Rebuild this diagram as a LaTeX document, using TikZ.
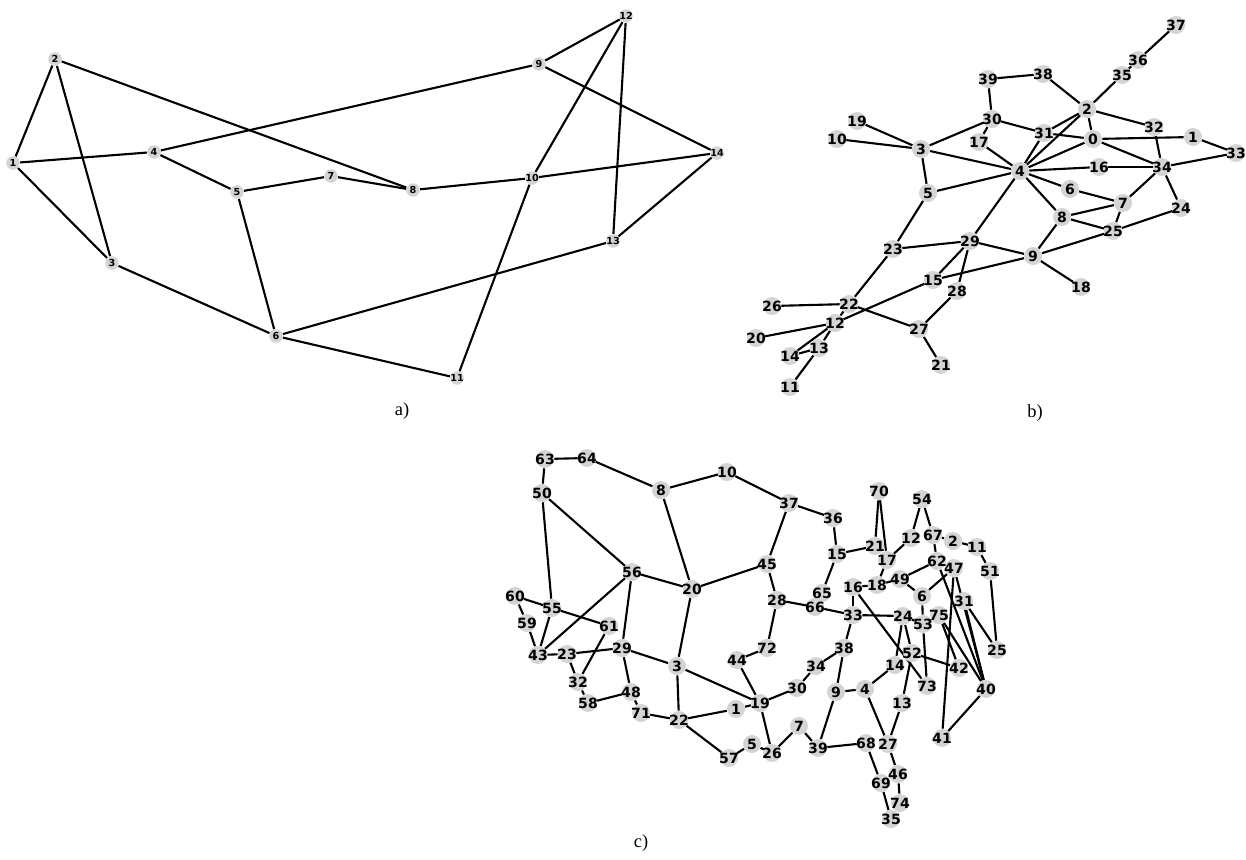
\documentclass[tikz,border=0pt]{standalone}
\usepackage{fontspec}
\setmainfont{Liberation Serif}
\newfontfamily\numfont{DejaVu Sans}
\usetikzlibrary{backgrounds}
\definecolor{nodegray}{RGB}{212,212,212}

\begin{document}
\begin{tikzpicture}[
    x=0.02cm, y=-0.02cm,
    vertex/.style={circle, fill=nodegray, minimum size=0.36cm, inner sep=-1pt, font=\numfont\bfseries\fontsize{8}{8}\selectfont},
    smallvertex/.style={circle, fill=nodegray, minimum size=0.27cm, inner sep=-1pt, font=\numfont\bfseries\fontsize{5.5}{5.5}\selectfont},
    link/.style={line width=1.2pt, draw=black},
    caption/.style={font=\fontsize{10.5}{10.5}\selectfont}
]
\useasboundingbox (0,0) rectangle (1246,859);

% ============ GRAPH a ============
\node[smallvertex] (a1) at (13,163) {1};
\node[smallvertex] (a2) at (55,59) {2};
\node[smallvertex] (a3) at (112,263) {3};
\node[smallvertex] (a4) at (154,152) {4};
\node[smallvertex] (a5) at (237,192) {5};
\node[smallvertex] (a6) at (276,336) {6};
\node[smallvertex] (a7) at (331,176) {7};
\node[smallvertex] (a8) at (413,190) {8};
\node[smallvertex] (a9) at (539,64) {9};
\node[smallvertex] (a10) at (532,178) {10};
\node[smallvertex] (a11) at (457,378) {11};
\node[smallvertex] (a12) at (626,16) {12};
\node[smallvertex] (a13) at (613,241) {13};
\node[smallvertex] (a14) at (717,153) {14};
\node[caption] (capa) at (402,411) {a)};

% ============ GRAPH b ============
\node[vertex] (b0) at (1093,139) {0};
\node[vertex] (b1) at (1193,137) {1};
\node[vertex] (b2) at (1087,109) {2};
\node[vertex] (b3) at (921,149) {3};
\node[vertex] (b4) at (1020,171) {4};
\node[vertex] (b5) at (928,193) {5};
\node[vertex] (b6) at (1070,189) {6};
\node[vertex] (b7) at (1123,203) {7};
\node[vertex] (b8) at (1062,217) {8};
\node[vertex] (b9) at (1033,256) {9};
\node[vertex] (b10) at (837,139) {10};
\node[vertex] (b11) at (790,387) {11};
\node[vertex] (b12) at (835,323) {12};
\node[vertex] (b13) at (819,348) {13};
\node[vertex] (b14) at (790,356) {14};
\node[vertex] (b15) at (933,280) {15};
\node[vertex] (b16) at (1099,167) {16};
\node[vertex] (b17) at (979,142) {17};
\node[vertex] (b18) at (1081,287) {18};
\node[vertex] (b19) at (857,121) {19};
\node[vertex] (b20) at (756,338) {20};
\node[vertex] (b21) at (941,365) {21};
\node[vertex] (b22) at (849,304) {22};
\node[vertex] (b23) at (893,249) {23};
\node[vertex] (b24) at (1181,208) {24};
\node[vertex] (b25) at (1113,231) {25};
\node[vertex] (b26) at (772,306) {26};
\node[vertex] (b27) at (919,329) {27};
\node[vertex] (b28) at (957,291) {28};
\node[vertex] (b29) at (970,241) {29};
\node[vertex] (b30) at (992,119) {30};
\node[vertex] (b31) at (1044,133) {31};
\node[vertex] (b32) at (1154,127) {32};
\node[vertex] (b33) at (1236,153) {33};
\node[vertex] (b34) at (1162,167) {34};
\node[vertex] (b35) at (1122,75) {35};
\node[vertex] (b36) at (1138,60) {36};
\node[vertex] (b37) at (1176,25) {37};
\node[vertex] (b38) at (1043,74) {38};
\node[vertex] (b39) at (988,79) {39};
\node[caption] (capb) at (1035,413) {b)};

% ============ GRAPH c ============
\node[vertex] (c1) at (736,709) {1};
\node[vertex] (c2) at (953,541) {2};
\node[vertex] (c3) at (677,666) {3};
\node[vertex] (c4) at (865,689) {4};
\node[vertex] (c5) at (752,744) {5};
\node[vertex] (c6) at (922,596) {6};
\node[vertex] (c7) at (799,726) {7};
\node[vertex] (c8) at (661,490) {8};
\node[vertex] (c9) at (836,692) {9};
\node[vertex] (c10) at (727,472) {10};
\node[vertex] (c11) at (977,547) {11};
\node[vertex] (c12) at (911,538) {12};
\node[vertex] (c13) at (902,703) {13};
\node[vertex] (c14) at (895,665) {14};
\node[vertex] (c15) at (837,554) {15};
\node[vertex] (c16) at (853,587) {16};
\node[vertex] (c17) at (887,560) {17};
\node[vertex] (c18) at (877,585) {18};
\node[vertex] (c19) at (760,703) {19};
\node[vertex] (c20) at (692,589) {20};
\node[vertex] (c21) at (875,546) {21};
\node[vertex] (c22) at (679,720) {22};
\node[vertex] (c23) at (567,654) {23};
\node[vertex] (c24) at (903,616) {24};
\node[vertex] (c25) at (997,650) {25};
\node[vertex] (c26) at (772,753) {26};
\node[vertex] (c27) at (888,744) {27};
\node[vertex] (c28) at (777,600) {28};
\node[vertex] (c29) at (622,648) {29};
\node[vertex] (c30) at (797,688) {30};
\node[vertex] (c31) at (964,601) {31};
\node[vertex] (c32) at (578,682) {32};
\node[vertex] (c33) at (853,615) {33};
\node[vertex] (c34) at (816,666) {34};
\node[vertex] (c35) at (891,819) {35};
\node[vertex] (c36) at (833,518) {36};
\node[vertex] (c37) at (789,503) {37};
\node[vertex] (c38) at (844,648) {38};
\node[vertex] (c39) at (818,748) {39};
\node[vertex] (c40) at (986,689) {40};
\node[vertex] (c41) at (942,738) {41};
\node[vertex] (c42) at (959,668) {42};
\node[vertex] (c43) at (538,655) {43};
\node[vertex] (c44) at (737,660) {44};
\node[vertex] (c45) at (767,564) {45};
\node[vertex] (c46) at (898,774) {46};
\node[vertex] (c47) at (954,568) {47};
\node[vertex] (c48) at (631,692) {48};
\node[vertex] (c49) at (900,579) {49};
\node[vertex] (c50) at (542,493) {50};
\node[vertex] (c51) at (990,571) {51};
\node[vertex] (c52) at (912,653) {52};
\node[vertex] (c53) at (923,624) {53};
\node[vertex] (c54) at (922,499) {54};
\node[vertex] (c55) at (552,608) {55};
\node[vertex] (c56) at (632,572) {56};
\node[vertex] (c57) at (729,758) {57};
\node[vertex] (c58) at (588,703) {58};
\node[vertex] (c59) at (527,623) {59};
\node[vertex] (c60) at (515,596) {60};
\node[vertex] (c61) at (609,626) {61};
\node[vertex] (c62) at (937,561) {62};
\node[vertex] (c63) at (545,459) {63};
\node[vertex] (c64) at (587,458) {64};
\node[vertex] (c65) at (822,593) {65};
\node[vertex] (c66) at (815,607) {66};
\node[vertex] (c67) at (933,535) {67};
\node[vertex] (c68) at (866,743) {68};
\node[vertex] (c69) at (881,783) {69};
\node[vertex] (c70) at (879,491) {70};
\node[vertex] (c71) at (641,713) {71};
\node[vertex] (c72) at (767,648) {72};
\node[vertex] (c73) at (927,686) {73};
\node[vertex] (c74) at (900,803) {74};
\node[vertex] (c75) at (939,615) {75};
\node[caption] (capc) at (641,843) {c)};

% ============ EDGES ============
\begin{scope}[on background layer]
    % graph a
    \draw[link] (a1) -- (a2);  \draw[link] (a1) -- (a3);  \draw[link] (a1) -- (a4);
    \draw[link] (a2) -- (a3);  \draw[link] (a2) -- (a8);  \draw[link] (a4) -- (a9);
    \draw[link] (a4) -- (a5);  \draw[link] (a5) -- (a7);  \draw[link] (a7) -- (a8);
    \draw[link] (a8) -- (a10); \draw[link] (a10) -- (a14); \draw[link] (a5) -- (a6);
    \draw[link] (a3) -- (a6);  \draw[link] (a6) -- (a13); \draw[link] (a6) -- (a11);
    \draw[link] (a11) -- (a10); \draw[link] (a10) -- (a12); \draw[link] (a12) -- (a9);
    \draw[link] (a9) -- (a14); \draw[link] (a12) -- (a13); \draw[link] (a13) -- (a14);

    % graph b
    \draw[link] (b37) -- (b36); \draw[link] (b36) -- (b35); \draw[link] (b35) -- (b2);
    \draw[link] (b38) -- (b39); \draw[link] (b38) -- (b2);  \draw[link] (b39) -- (b30);
    \draw[link] (b30) -- (b3);  \draw[link] (b30) -- (b17); \draw[link] (b17) -- (b4);
    \draw[link] (b30) -- (b31); \draw[link] (b31) -- (b0);  \draw[link] (b31) -- (b2);
    \draw[link] (b31) -- (b4);  \draw[link] (b2) -- (b4);   \draw[link] (b2) -- (b0);
    \draw[link] (b2) -- (b32);  \draw[link] (b32) -- (b34); \draw[link] (b0) -- (b1);
    \draw[link] (b1) -- (b33);  \draw[link] (b33) -- (b34); \draw[link] (b0) -- (b34);
    \draw[link] (b0) -- (b4);   \draw[link] (b4) -- (b16);  \draw[link] (b16) -- (b34);
    \draw[link] (b4) -- (b3);   \draw[link] (b4) -- (b5);   \draw[link] (b4) -- (b6);
    \draw[link] (b6) -- (b7);   \draw[link] (b4) -- (b8);   \draw[link] (b8) -- (b7);
    \draw[link] (b7) -- (b34);  \draw[link] (b34) -- (b24); \draw[link] (b24) -- (b25);
    \draw[link] (b8) -- (b25);  \draw[link] (b7) -- (b25);  \draw[link] (b8) -- (b9);
    \draw[link] (b9) -- (b25);  \draw[link] (b29) -- (b9);  \draw[link] (b4) -- (b29);
    \draw[link] (b29) -- (b23); \draw[link] (b23) -- (b5);  \draw[link] (b29) -- (b15);
    \draw[link] (b29) -- (b28); \draw[link] (b9) -- (b18);  \draw[link] (b15) -- (b9);
    \draw[link] (b12) -- (b15); \draw[link] (b3) -- (b5);   \draw[link] (b19) -- (b3);
    \draw[link] (b10) -- (b3);  \draw[link] (b23) -- (b22); \draw[link] (b22) -- (b26);
    \draw[link] (b22) -- (b27); \draw[link] (b22) -- (b12); \draw[link] (b12) -- (b20);
    \draw[link] (b12) -- (b14); \draw[link] (b12) -- (b13); \draw[link] (b13) -- (b14);
    \draw[link] (b13) -- (b11); \draw[link] (b28) -- (b27); \draw[link] (b27) -- (b21);

    % graph c
    \draw[link] (c63) -- (c64); \draw[link] (c64) -- (c8);  \draw[link] (c8) -- (c10);
    \draw[link] (c10) -- (c37); \draw[link] (c63) -- (c50); \draw[link] (c50) -- (c55);
    \draw[link] (c50) -- (c56); \draw[link] (c8) -- (c20);  \draw[link] (c37) -- (c36);
    \draw[link] (c37) -- (c45); \draw[link] (c45) -- (c20); \draw[link] (c56) -- (c20);
    \draw[link] (c36) -- (c15); \draw[link] (c15) -- (c21); \draw[link] (c15) -- (c65);
    \draw[link] (c45) -- (c28); \draw[link] (c28) -- (c66); \draw[link] (c66) -- (c33);
    \draw[link] (c28) -- (c72); \draw[link] (c72) -- (c44); \draw[link] (c44) -- (c19);
    \draw[link] (c20) -- (c3);  \draw[link] (c3) -- (c29);  \draw[link] (c3) -- (c22);
    \draw[link] (c3) -- (c19);  \draw[link] (c56) -- (c43); \draw[link] (c56) -- (c29);
    \draw[link] (c60) -- (c55); \draw[link] (c55) -- (c61); \draw[link] (c60) -- (c59);
    \draw[link] (c59) -- (c43); \draw[link] (c55) -- (c43); \draw[link] (c43) -- (c23);
    \draw[link] (c23) -- (c29); \draw[link] (c23) -- (c32); \draw[link] (c32) -- (c61);
    \draw[link] (c32) -- (c58); \draw[link] (c58) -- (c48); \draw[link] (c48) -- (c29);
    \draw[link] (c48) -- (c71); \draw[link] (c71) -- (c22); \draw[link] (c22) -- (c1);
    \draw[link] (c1) -- (c19);  \draw[link] (c22) -- (c57); \draw[link] (c57) -- (c5);
    \draw[link] (c5) -- (c26);  \draw[link] (c19) -- (c26); \draw[link] (c19) -- (c30);
    \draw[link] (c30) -- (c34); \draw[link] (c34) -- (c38); \draw[link] (c26) -- (c7);
    \draw[link] (c7) -- (c39);  \draw[link] (c39) -- (c9);  \draw[link] (c39) -- (c68);
    \draw[link] (c9) -- (c4);   \draw[link] (c9) -- (c38);  \draw[link] (c38) -- (c33);
    \draw[link] (c4) -- (c14);  \draw[link] (c4) -- (c27);  \draw[link] (c14) -- (c24);
    \draw[link] (c24) -- (c52); \draw[link] (c52) -- (c13); \draw[link] (c13) -- (c27);
    \draw[link] (c27) -- (c46); \draw[link] (c46) -- (c74); \draw[link] (c68) -- (c69);
    \draw[link] (c69) -- (c35); \draw[link] (c70) -- (c21); \draw[link] (c70) -- (c17);
    \draw[link] (c17) -- (c18); \draw[link] (c17) -- (c12); \draw[link] (c12) -- (c54);
    \draw[link] (c54) -- (c67); \draw[link] (c67) -- (c62); \draw[link] (c67) -- (c2);
    \draw[link] (c2) -- (c11);  \draw[link] (c11) -- (c51); \draw[link] (c51) -- (c25);
    \draw[link] (c16) -- (c18); \draw[link] (c18) -- (c49); \draw[link] (c49) -- (c62);
    \draw[link] (c49) -- (c6);  \draw[link] (c6) -- (c47);  \draw[link] (c6) -- (c53);
    \draw[link] (c33) -- (c24); \draw[link] (c24) -- (c53); \draw[link] (c16) -- (c33);
    \draw[link] (c16) -- (c73); \draw[link] (c53) -- (c73); \draw[link] (c52) -- (c42);
    \draw[link] (c62) -- (c40); \draw[link] (c47) -- (c41); \draw[link] (c47) -- (c40);
    \draw[link] (c75) -- (c42); \draw[link] (c75) -- (c40); \draw[link] (c31) -- (c25);
    \draw[link] (c31) -- (c40); \draw[link] (c40) -- (c41);
\end{scope}

\end{tikzpicture}
\end{document}
